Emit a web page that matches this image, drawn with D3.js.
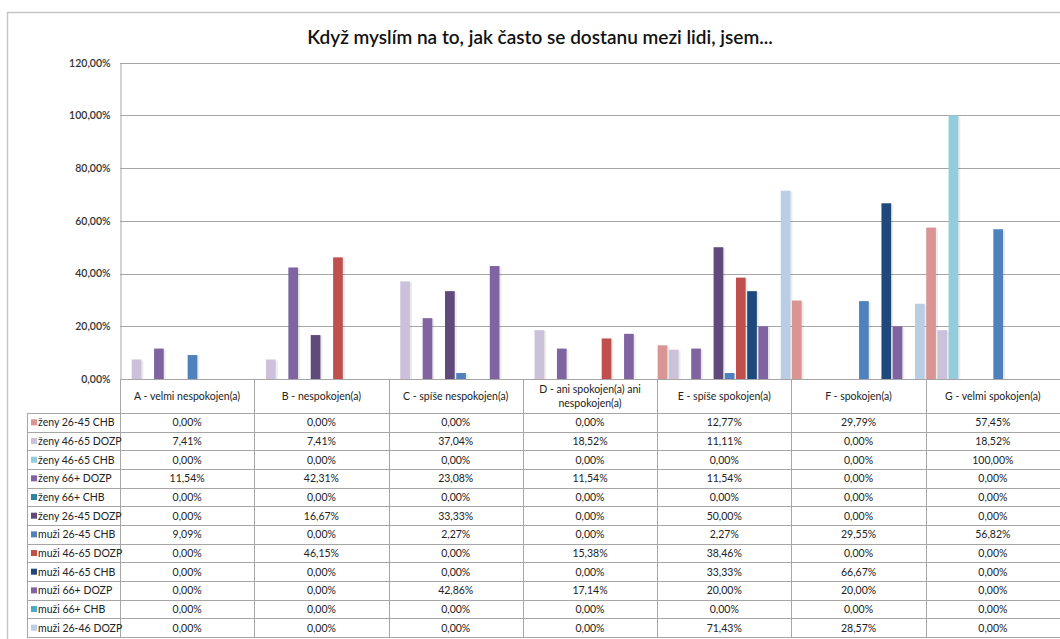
<!DOCTYPE html>
<html>
<head>
<meta charset="utf-8">
<script src="https://cdn.jsdelivr.net/npm/d3@7"></script>
<style>
  body { margin: 0; background: #fff; }
  text { font-family: Lato, 'Open Sans', sans-serif; }
</style>
</head>
<body>
<div id="chart"></div>
<script>
// categories (answers)
var categories = [
  'A - velmi nespokojen(a)',
  'B - nespokojen(a)',
  'C - spíše nespokojen(a)',
  'D - ani spokojen(a) ani nespokojen(a)',
  'E - spíše spokojen(a)',
  'F - spokojen(a)',
  'G - velmi spokojen(a)'
]

// series names, in the order of the table
var seriesNames = [
  'ženy 26-45 CHB',
  'ženy 46-65 DOZP',
  'ženy 46-65 CHB',
  'ženy 66+ DOZP',
  'ženy 66+ CHB',
  'ženy 26-45 DOZP',
  'muži 26-45 CHB',
  'muži 46-65 DOZP',
  'muži 46-65 CHB',
  'muži 66+ DOZP',
  'muži 66+ CHB',
  'muži 26-46 DOZP'
]

// values in percent, one array per series
var zeny2645CHB = [0, 0, 0, 0, 12.77, 29.79, 57.45]
var zeny4665DOZP = [7.41, 7.41, 37.04, 18.52, 11.11, 0, 18.52]
var zeny4665CHB = [0, 0, 0, 0, 0, 0, 100]
var zeny66DOZP = [11.54, 42.31, 23.08, 11.54, 11.54, 0, 0]
var zeny66CHB = [0, 0, 0, 0, 0, 0, 0]
var zeny2645DOZP = [0, 16.67, 33.33, 0, 50, 0, 0]
var muzi2645CHB = [9.09, 0, 2.27, 0, 2.27, 29.55, 56.82]
var muzi4665DOZP = [0, 46.15, 0, 15.38, 38.46, 0, 0]
var muzi4665CHB = [0, 0, 0, 0, 33.33, 66.67, 0]
var muzi66DOZP = [0, 0, 42.86, 17.14, 20, 20, 0]
var muzi66CHB = [0, 0, 0, 0, 0, 0, 0]
var muzi2646DOZP = [0, 0, 0, 0, 71.43, 28.57, 0]

var seriesValues = [
  zeny2645CHB, zeny4665DOZP, zeny4665CHB, zeny66DOZP, zeny66CHB, zeny2645DOZP,
  muzi2645CHB, muzi4665DOZP, muzi4665CHB, muzi66DOZP, muzi66CHB, muzi2646DOZP
]

var yTicks = [0, 20, 40, 60, 80, 100, 120]

var colors = [
  '#d99594', '#ccc1da', '#93cddd', '#8064a2', '#31859c', '#604a7b',
  '#4f81bd', '#c0504d', '#1f497d', '#8064a2', '#4bacc6', '#b9cde5'
]

var width = 1060
var height = 639
var plotLeft = 120
var plotRight = 1060
var plotTop = 62.7
var plotBottom = 379
var headerH = 34
var rowH = 18.67
var legendLeft = 27

var fmt = v => v.toFixed(2).replace('.', ',') + '%'

var svg = d3
  .select('#chart')
  .append('svg')
  .attr('width', width)
  .attr('height', height)

// outer chart border
svg
  .append('rect')
  .attr('x', 7.5)
  .attr('y', 12.5)
  .attr('width', width + 10)
  .attr('height', height + 10)
  .attr('fill', 'none')
  .attr('stroke', '#c6c6c6')
  .attr('stroke-width', 1.5)

svg
  .append('text')
  .text('Když myslím na to, jak často se dostanu mezi lidi, jsem...')
  .attr('x', 540)
  .attr('y', 44)
  .attr('text-anchor', 'middle')
  .attr('font-size', 19)
  .attr('font-weight', 600)
  .attr('fill', '#111')

var xScale = d3
  .scaleBand()
  .domain(categories)
  .range([plotLeft, plotRight])
  .padding(0)

var sScale = d3
  .scaleBand()
  .domain(seriesNames)
  .range([0, xScale.bandwidth()])
  .padding(0)

var yScale = d3.scaleLinear().domain([0, 120]).range([plotBottom, plotTop])

// gridlines
svg
  .selectAll('.grid')
  .data(yTicks)
  .enter()
  .append('line')
  .attr('x1', plotLeft)
  .attr('x2', plotRight)
  .attr('y1', d => Math.round(yScale(d)) + 0.5)
  .attr('y2', d => Math.round(yScale(d)) + 0.5)
  .attr('stroke', '#a6a6a6')

// y axis
var yAxis = d3
  .axisLeft(yScale)
  .tickValues(yTicks)
  .tickSize(0)
  .tickPadding(10)
  .tickFormat(d => fmt(d))

svg
  .append('g')
  .attr('transform', `translate(${plotLeft + 0.5},0)`)
  .call(yAxis)
  .call(g => g.select('.domain').attr('stroke', '#a6a6a6'))
  .call(g =>
    g
      .selectAll('text')
      .attr('font-family', 'Lato, sans-serif')
      .attr('font-size', 10.5)
      .attr('font-weight', 600)
      .attr('fill', '#333')
  )

// bars
var barData = []
seriesNames.forEach((s, i) => {
  categories.forEach((c, j) => {
    barData.push({ series: s, cat: c, value: seriesValues[i][j], color: colors[i] })
  })
})

var bars = svg.append('g').selectAll('.bar').data(barData.filter(d => d.value > 0)).enter()

// soft shadow behind the bars
bars
  .append('rect')
  .attr('x', d => xScale(d.cat) + sScale(d.series) + 2)
  .attr('y', d => yScale(d.value) + 1)
  .attr('width', sScale.bandwidth() - 1)
  .attr('height', d => plotBottom - yScale(d.value) - 1)
  .attr('fill', '#000')
  .attr('opacity', 0.08)

bars
  .append('rect')
  .attr('class', 'bar')
  .attr('x', d => xScale(d.cat) + sScale(d.series) + 0.5)
  .attr('y', d => yScale(d.value))
  .attr('width', sScale.bandwidth() - 1.5)
  .attr('height', d => plotBottom - yScale(d.value))
  .attr('fill', d => d.color)

// data table
var table = svg.append('g')
var tableTop = plotBottom
var rowsTop = tableTop + headerH
var tableBottom = rowsTop + rowH * seriesNames.length
var lineColor = '#a6a6a6'

// horizontal lines
table
  .append('line')
  .attr('x1', plotLeft)
  .attr('x2', plotRight)
  .attr('y1', tableTop + 0.5)
  .attr('y2', tableTop + 0.5)
  .attr('stroke', lineColor)

table
  .selectAll('.hline')
  .data(d3.range(seriesNames.length + 1))
  .enter()
  .append('line')
  .attr('x1', legendLeft)
  .attr('x2', plotRight)
  .attr('y1', i => Math.round(rowsTop + i * rowH) + 0.5)
  .attr('y2', i => Math.round(rowsTop + i * rowH) + 0.5)
  .attr('stroke', lineColor)

// vertical lines
table
  .selectAll('.vline')
  .data(categories)
  .enter()
  .append('line')
  .attr('x1', d => Math.round(xScale(d)) + 0.5)
  .attr('x2', d => Math.round(xScale(d)) + 0.5)
  .attr('y1', tableTop)
  .attr('y2', tableBottom)
  .attr('stroke', lineColor)

table
  .append('line')
  .attr('x1', legendLeft + 0.5)
  .attr('x2', legendLeft + 0.5)
  .attr('y1', rowsTop)
  .attr('y2', tableBottom)
  .attr('stroke', lineColor)

// category headers (wrapped when long)
var wrapLines = {
  'D - ani spokojen(a) ani nespokojen(a)': ['D - ani spokojen(a) ani', 'nespokojen(a)']
}

table
  .selectAll('.cat-label')
  .data(categories)
  .enter()
  .append('text')
  .attr('class', 'cat-label')
  .attr('text-anchor', 'middle')
  .attr('font-size', 10.5)
  .attr('fill', '#222')
  .each(function (d) {
    var lines = wrapLines[d] || [d]
    var cx = xScale(d) + xScale.bandwidth() / 2
    var startY = tableTop + headerH / 2 + 4 - (lines.length - 1) * 7
    d3.select(this)
      .selectAll('tspan')
      .data(lines)
      .enter()
      .append('tspan')
      .attr('x', cx)
      .attr('y', (l, k) => startY + k * 14)
      .text(l => l)
  })

// legend keys + names
var rows = table
  .selectAll('.row')
  .data(seriesNames)
  .enter()
  .append('g')
  .attr('transform', (d, i) => `translate(0,${rowsTop + i * rowH})`)

rows
  .append('rect')
  .attr('x', 31)
  .attr('y', rowH / 2 - 3)
  .attr('width', 6)
  .attr('height', 6)
  .attr('fill', (d, i) => colors[i])

rows
  .append('text')
  .text(d => d)
  .attr('x', 38)
  .attr('y', rowH / 2 + 4)
  .attr('font-size', 10.5)
  .attr('fill', '#222')

// values
rows.each(function (s, i) {
  d3.select(this)
    .selectAll('.val')
    .data(categories)
    .enter()
    .append('text')
    .text((c, j) => fmt(seriesValues[i][j]))
    .attr('x', c => xScale(c) + xScale.bandwidth() / 2)
    .attr('y', rowH / 2 + 4)
    .attr('text-anchor', 'middle')
    .attr('font-size', 10.5)
    .attr('fill', '#222')
})
</script>
</body>
</html>
